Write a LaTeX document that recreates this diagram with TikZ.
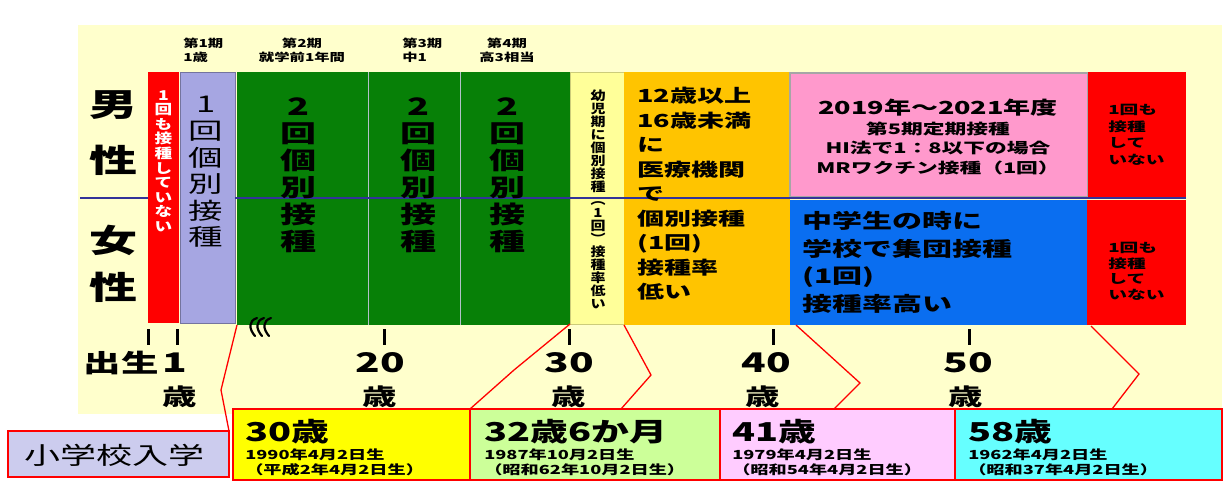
\documentclass[tikz,border=0pt]{standalone}
\usepackage{fontspec}
\newfontfamily\jp{Noto Sans CJK JP}
\newcommand{\fsz}[2]{\fontsize{#1}{#2}\selectfont}
\definecolor{bgy}{HTML}{FFFFCC}
\definecolor{cred}{HTML}{FF0000}
\definecolor{clav}{HTML}{A6A6E2}
\definecolor{cgreen}{HTML}{078007}
\definecolor{cly}{HTML}{FFFF99}
\definecolor{corange}{HTML}{FFC400}
\definecolor{cpink}{HTML}{FF99CC}
\definecolor{cblue}{HTML}{0A6EF0}
\definecolor{navy}{HTML}{333399}
\definecolor{byel}{HTML}{FFFF00}
\definecolor{bgrn}{HTML}{CCFF99}
\definecolor{bpnk}{HTML}{FFCCFF}
\definecolor{bcyn}{HTML}{66FFFF}
\definecolor{blav}{HTML}{CCCCEE}
\begin{document}
\begin{tikzpicture}[x=1pt,y=-1pt,
  col/.style 2 args={anchor=north west, inner sep=0pt, outer sep=0pt, minimum width=#1, minimum height=#2},
  jp/.style={inner sep=0pt, xscale=1.5},
  tick/.style={line width=3pt, black},
  box/.style={draw=cred, line width=1.8pt},
  link/.style={draw=cred, line width=1.3pt, line join=miter},
  divider/.style={draw=#1, line width=1pt}
]
\useasboundingbox (0,0) rectangle (1228,491);
\fill[white] (0,0) rectangle (1228,491);
\fill[bgy] (78,25) rectangle (1222,414);

% columns
\node[col={31}{251}, fill=cred] (c0) at (148,72) {};
\node[col={55}{251}, fill=clav, draw=clav!70!black, line width=0.5pt] (c1) at (180,72) {};
\node[col={333}{253}, fill=cgreen] (c2) at (237,72) {};
\node[col={54}{252}, fill=cly, draw=cly!80!black, line width=0.5pt] (c3) at (570,72) {};
\node[col={166}{253}, fill=corange] (c4) at (624,72) {};
\node[col={298}{124}, fill=cpink, draw=gray!70, line width=1.5pt] (c5) at (790,73) {};
\node[col={297}{125}, fill=cblue] (c6) at (790,200) {};
\node[col={98}{125}, fill=cred] (c7) at (1088,72) {};
\node[col={99}{125}, fill=cred] (c8) at (1087,200) {};

\draw[divider=cyan!20!gray!60] (368,72) -- (368,325);
\draw[divider=cyan!20!gray!60] (460,72) -- (460,325);

% navy line
\draw[navy, line width=2pt] (80,197.5) -- (c0.west |- 0,197.5);
\draw[navy, line width=2pt] (c1.east |- 0,197.5) -- (1186,197.5);

% left labels
\node[jp, font={\jp\bfseries\fsz{32}{36}}] (m1) at (113,105) {男};
\node[jp, font={\jp\bfseries\fsz{32}{36}}] (m2) at (113,160) {性};
\node[jp, font={\jp\bfseries\fsz{32}{36}}] (f1) at (113,240) {女};
\node[jp, font={\jp\bfseries\fsz{32}{36}}] (f2) at (113,287) {性};

% header
\node[jp, xscale=0.93, anchor=north west, align=left, font={\jp\bfseries\fsz{11}{14}}] (h1) at (183,38) {第1期\\1歳};
\node[jp, xscale=0.93, anchor=north, align=center, font={\jp\bfseries\fsz{11}{14}}] (h2) at (302,38) {第2期\\就学前1年間};
\node[jp, xscale=0.93, anchor=north west, align=left, font={\jp\bfseries\fsz{11}{14}}] (h3) at (402,38) {第3期\\中1};
\node[jp, xscale=0.93, anchor=north, align=center, font={\jp\bfseries\fsz{11}{14}}] (h4) at (507,38) {第4期\\高3相当};

% column texts
\node[jp, xscale=0.87, align=center, text=white, font={\jp\bfseries\fsz{13.5}{14.6}}] (t0) at (163.5,161) {1\\回\\も\\接\\種\\し\\て\\い\\な\\い};
\node[jp, align=center, font={\jp\fsz{23}{26.6}}] (t1) at (206,172) {1\\回\\個\\別\\接\\種};
\node[jp, align=center, font={\jp\bfseries\fsz{24}{27}}] (t2a) at (298,175) {2\\回\\個\\別\\接\\種};
\node[jp, align=center, font={\jp\bfseries\fsz{24}{27}}] (t2b) at (418,175) {2\\回\\個\\別\\接\\種};
\node[jp, align=center, font={\jp\bfseries\fsz{24}{27}}] (t2c) at (507,175) {2\\回\\個\\別\\接\\種};
\node[jp, xscale=0.8, align=center, font={\jp\bfseries\fsz{12.5}{13}}] (t3) at (598,199) {幼\\児\\期\\に\\個\\別\\接\\種\\︵\\1\\回\\︶\\接\\種\\率\\低\\い};
\node[jp, anchor=north west, align=left, font={\jp\bfseries\fsz{18}{24.5}}] (t4) at (637,87) {12歳以上\\16歳未満\\に\\医療機関\\で\\個別接種\\(1回)\\接種率\\低い};
\node[jp, font={\jp\bfseries\fsz{18}{20}}] (t5a) at (938,108) {2019年～2021年度};
\node[jp, align=center, font={\jp\bfseries\fsz{14.5}{19.5}}] (t5b) at (938,148) {第5期定期接種\\HI法で1：8以下の場合\\MRワクチン接種（1回）};
\node[jp, anchor=north west, align=left, font={\jp\bfseries\fsz{20}{27.7}}] (t6) at (802,211) {中学生の時に\\学校で集団接種\\(1回)\\接種率高い};
\node[jp, anchor=north west, align=left, font={\jp\bfseries\fsz{12.5}{16.5}}] (t7) at (1108,104) {1回も\\接種\\して\\いない};
\node[jp, anchor=north west, align=left, font={\jp\bfseries\fsz{12.5}{15.5}}] (t8) at (1108,242) {1回も\\接種\\して\\いない};

% squiggle mark
\foreach \i in {0,1,2}
  \draw[black, line width=2.2pt, line cap=round] (257+7*\i,318) .. controls (248+7*\i,321) and (249+7*\i,329) .. (255+7*\i,336);

% ticks
\foreach \xx in {148,177,384,569,773,969}
  \draw[tick] (\xx,329) -- (\xx,345);

% axis labels
\node[jp, font={\jp\bfseries\fsz{25}{28}}] (a0) at (121,363) {出生};
\node[jp, font={\jp\bfseries\fsz{27}{30}}] (a1) at (175,363) {1};
\node[jp, font={\jp\bfseries\fsz{23}{26}}] (a1s) at (180,397) {歳};
\node[jp, font={\jp\bfseries\fsz{27}{30}}] (a2) at (380,363) {20};
\node[jp, font={\jp\bfseries\fsz{23}{26}}] (a2s) at (380,397) {歳};
\node[jp, font={\jp\bfseries\fsz{27}{30}}] (a3) at (569,363) {30};
\node[jp, font={\jp\bfseries\fsz{23}{26}}] (a3s) at (569,397) {歳};
\node[jp, font={\jp\bfseries\fsz{27}{30}}] (a4) at (766,363) {40};
\node[jp, font={\jp\bfseries\fsz{23}{26}}] (a4s) at (763,397) {歳};
\node[jp, font={\jp\bfseries\fsz{27}{30}}] (a5) at (968,363) {50};
\node[jp, font={\jp\bfseries\fsz{23}{26}}] (a5s) at (966,397) {歳};

% bottom boxes
\node[box, col={221}{46}, fill=blav] (b0) at (8,431) {};
\node[jp, font={\jp\fsz{24}{28}}] (b0t) at (114,455) {小学校入学};
\node[box, col={237}{71}, fill=byel] (b1) at (233,409) {};
\node[box, col={250}{71}, fill=bgrn] (b2) at (470,409) {};
\node[box, col={235}{71}, fill=bpnk] (b3) at (720,409) {};
\node[box, col={267}{71}, fill=bcyn] (b4) at (955,409) {};

\node[jp, xscale=0.97, anchor=west, font={\jp\bfseries\fsz{26}{28}}] (b1a) at (245,432) {30歳};
\node[jp, xscale=0.97, anchor=west, font={\jp\bfseries\fsz{12.5}{14}}] (b1b) at (245,455) {1990年4月2日生};
\node[jp, xscale=0.97, anchor=west, font={\jp\bfseries\fsz{12.5}{14}}] (b1c) at (245,470) {（平成2年4月2日生）};
\node[jp, xscale=0.97, anchor=west, font={\jp\bfseries\fsz{26}{28}}] (b2a) at (484,432) {32歳6か月};
\node[jp, xscale=0.97, anchor=west, font={\jp\bfseries\fsz{12.5}{14}}] (b2b) at (484,455) {1987年10月2日生};
\node[jp, xscale=0.97, anchor=west, font={\jp\bfseries\fsz{12.5}{14}}] (b2c) at (484,470) {（昭和62年10月2日生）};
\node[jp, xscale=0.97, anchor=west, font={\jp\bfseries\fsz{26}{28}}] (b3a) at (732,432) {41歳};
\node[jp, xscale=0.97, anchor=west, font={\jp\bfseries\fsz{12.5}{14}}] (b3b) at (732,455) {1979年4月2日生};
\node[jp, xscale=0.97, anchor=west, font={\jp\bfseries\fsz{12.5}{14}}] (b3c) at (732,470) {（昭和54年4月2日生）};
\node[jp, xscale=0.97, anchor=west, font={\jp\bfseries\fsz{26}{28}}] (b4a) at (968,432) {58歳};
\node[jp, xscale=0.97, anchor=west, font={\jp\bfseries\fsz{12.5}{14}}] (b4b) at (968,455) {1962年4月2日生};
\node[jp, xscale=0.97, anchor=west, font={\jp\bfseries\fsz{12.5}{14}}] (b4c) at (968,470) {（昭和37年4月2日生）};

% connector bends
\coordinate (k0) at (221,390);
\coordinate (k1) at (514,370);
\coordinate (k2) at (651,375);
\coordinate (e2) at (621,409);
\coordinate (s3) at (796,325);
\coordinate (k3) at (860,383);
\coordinate (e3) at (834,409);
\coordinate (s4) at (1091,326);
\coordinate (k4) at (1139,374);
\coordinate (e4) at (1112,409);

\draw[link] (c2.south west) -- (k0) -- (b0.north east);
\draw[link] (c3.south west) -- (k1) -- (b2.north west);
\draw[link] (c4.south west) -- (k2) -- (e2);
\draw[link] (s3) -- (k3) -- (e3);
\draw[link] (s4) -- (k4) -- (e4);
\end{tikzpicture}
\end{document}
